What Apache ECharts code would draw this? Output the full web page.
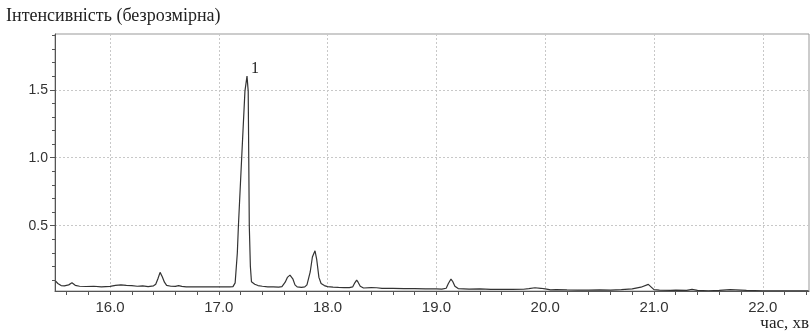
<!DOCTYPE html>
<html>
<head>
<meta charset="utf-8">
<script src="https://cdn.jsdelivr.net/npm/echarts@6/dist/echarts.min.js"></script>
<style>
  html, body { margin: 0; padding: 0; background: #fff; }
  #chart { width: 812px; height: 334px; }
</style>
</head>
<body>
<div id="chart"></div>
<script>
// retention time, min
const times = [
  15.50, 15.52, 15.55, 15.58, 15.62, 15.65, 15.68, 15.72, 15.78, 15.85,
  15.92, 16.00, 16.05, 16.10, 16.15, 16.20, 16.25, 16.30, 16.35, 16.40,
  16.42, 16.44, 16.46, 16.48, 16.50, 16.52, 16.56, 16.60, 16.63, 16.66,
  16.70, 16.80, 16.90, 17.00, 17.10, 17.13, 17.15, 17.17, 17.18, 17.21,
  17.24, 17.259, 17.27, 17.275, 17.28, 17.29, 17.30, 17.33, 17.36, 17.40,
  17.45, 17.50, 17.55, 17.58, 17.61, 17.63, 17.654, 17.68, 17.70, 17.72,
  17.76, 17.79, 17.81, 17.84, 17.86, 17.884, 17.90, 17.92, 17.94, 17.97,
  18.00, 18.05, 18.10, 18.15, 18.20, 18.23, 18.25, 18.267, 18.28, 18.30,
  18.33, 18.40, 18.45, 18.50, 18.60, 18.70, 18.80, 18.90, 19.00, 19.05,
  19.09, 19.11, 19.134, 19.15, 19.17, 19.20, 19.30, 19.40, 19.50, 19.60,
  19.70, 19.80, 19.85, 19.906, 19.96, 20.00, 20.05, 20.10, 20.20, 20.30,
  20.40, 20.50, 20.60, 20.70, 20.80, 20.88, 20.948, 20.98, 21.00, 21.05,
  21.15, 21.20, 21.30, 21.35, 21.40, 21.50, 21.60, 21.70, 21.75, 21.85,
  22.00, 22.20, 22.42
];
// intensity (dimensionless)
const intensity = [
  0.093, 0.075, 0.060, 0.058, 0.065, 0.080, 0.062, 0.055, 0.053, 0.055,
  0.051, 0.054, 0.062, 0.065, 0.062, 0.060, 0.055, 0.058, 0.052, 0.058,
  0.070, 0.110, 0.157, 0.125, 0.085, 0.062, 0.055, 0.054, 0.060, 0.054,
  0.050, 0.050, 0.050, 0.050, 0.050, 0.052, 0.080, 0.300, 0.500, 1.000,
  1.490, 1.600, 1.490, 1.000, 0.500, 0.200, 0.088, 0.070, 0.060, 0.055,
  0.050, 0.050, 0.048, 0.052, 0.085, 0.120, 0.137, 0.110, 0.065, 0.050,
  0.047, 0.050, 0.065, 0.160, 0.270, 0.316, 0.250, 0.120, 0.075, 0.060,
  0.052, 0.048, 0.046, 0.045, 0.045, 0.050, 0.080, 0.100, 0.085, 0.055,
  0.042, 0.045, 0.044, 0.040, 0.040, 0.038, 0.037, 0.035, 0.036, 0.034,
  0.040, 0.075, 0.108, 0.090, 0.055, 0.038, 0.034, 0.035, 0.032, 0.033,
  0.032, 0.033, 0.038, 0.044, 0.040, 0.035, 0.028, 0.030, 0.028, 0.027,
  0.026, 0.029, 0.026, 0.030, 0.035, 0.048, 0.069, 0.045, 0.030, 0.026,
  0.024, 0.026, 0.025, 0.032, 0.025, 0.022, 0.025, 0.030, 0.028, 0.024,
  0.022, 0.022, 0.022
];

const peakLabels = [{ name: "1", time: 17.259, value: 1.60 }];

const xMajorTicks = [16, 17, 18, 19, 20, 21, 22];
const xMinorTicks = [
  15.6, 15.8, 16.2, 16.4, 16.6, 16.8, 17.2, 17.4, 17.6, 17.8,
  18.2, 18.4, 18.6, 18.8, 19.2, 19.4, 19.6, 19.8, 20.2, 20.4,
  20.6, 20.8, 21.2, 21.4, 21.6, 21.8, 22.2, 22.4
];
const yMajorTicks = [0.5, 1.0, 1.5];
const yMinorTicks = [0.1, 0.2, 0.3, 0.4, 0.6, 0.7, 0.8, 0.9, 1.1, 1.2, 1.3, 1.4, 1.6, 1.7, 1.8, 1.9];

const xMin = 15.494, xMax = 22.425;
const yMin = 0.02, yMax = 1.91;

const chart = echarts.init(document.getElementById("chart"), null, { renderer: "canvas" });

const sansFont = "Liberation Sans";
const serifFont = "Liberation Serif";
const gridBox = { left: 55, right: 3, top: 34, bottom: 43 };

chart.setOption({
  animation: false,
  backgroundColor: "#ffffff",
  grid: [
    Object.assign({ show: true, borderColor: "#999", borderWidth: 1, containLabel: false }, gridBox),
    Object.assign({ show: false, containLabel: false }, gridBox)
  ],
  xAxis: [
    {
      type: "value", gridIndex: 0, min: xMin, max: xMax,
      axisLine: { show: true, lineStyle: { color: "#555", width: 1 } },
      axisTick: { show: true, inside: false, length: 4, customValues: xMajorTicks, lineStyle: { color: "#555" } },
      axisLabel: {
        show: true, customValues: xMajorTicks, margin: 9,
        color: "#333", fontFamily: sansFont, fontSize: 15,
        formatter: v => v.toFixed(1)
      },
      splitLine: { show: true, lineStyle: { color: "#c8c8c8", type: [2, 2], width: 1 } }
    },
    {
      type: "value", gridIndex: 1, min: xMin, max: xMax,
      axisLine: { show: false },
      axisTick: { show: true, inside: false, length: 4, customValues: xMinorTicks, lineStyle: { color: "#555" } },
      axisLabel: { show: false },
      splitLine: { show: false }
    }
  ],
  yAxis: [
    {
      type: "value", gridIndex: 0, min: yMin, max: yMax,
      axisLine: { show: true, lineStyle: { color: "#555", width: 1 } },
      axisTick: { show: true, inside: false, length: 5, customValues: yMajorTicks, lineStyle: { color: "#555" } },
      axisLabel: {
        show: true, customValues: yMajorTicks, margin: 7,
        color: "#333", fontFamily: sansFont, fontSize: 14,
        formatter: v => v.toFixed(1)
      },
      splitLine: { show: true, lineStyle: { color: "#c8c8c8", type: [2, 2], width: 1 } }
    },
    {
      type: "value", gridIndex: 1, min: yMin, max: yMax,
      axisLine: { show: false },
      axisTick: { show: true, inside: false, length: 3, customValues: yMinorTicks, lineStyle: { color: "#555" } },
      axisLabel: { show: false },
      splitLine: { show: false }
    }
  ],
  series: [
    {
      type: "line",
      xAxisIndex: 0,
      yAxisIndex: 0,
      data: times.map((t, i) => [t, intensity[i]]),
      showSymbol: false,
      symbol: "none",
      smooth: false,
      lineStyle: { color: "#333", width: 1.2 },
      markPoint: {
        symbol: "circle",
        symbolSize: 0,
        data: peakLabels.map(p => ({ coord: [p.time, p.value], value: p.name })),
        label: {
          show: true,
          position: "inside",
          offset: [8, -7],
          formatter: p => p.value,
          color: "#222",
          fontFamily: serifFont,
          fontSize: 16
        }
      }
    }
  ],
  graphic: [
    {
      type: "text", left: 6, top: 7,
      style: { text: "Інтенсивність (безрозмірна)", fill: "#222", font: "18px 'Liberation Serif'" }
    },
    {
      type: "text", right: 3, top: 315,
      style: { text: "час, хв", fill: "#222", font: "17px 'Liberation Serif'" }
    }
  ]
});
</script>
</body>
</html>
